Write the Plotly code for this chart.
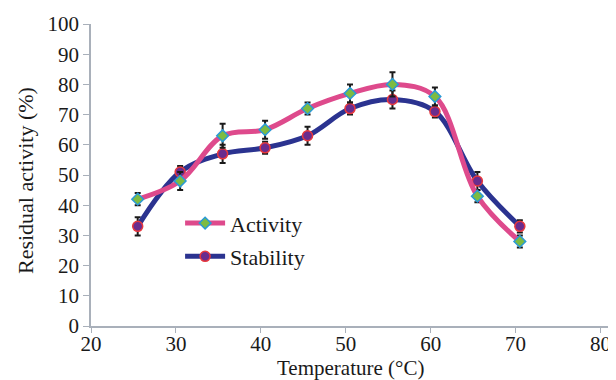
import plotly.graph_objects as go

temperature = [25.5, 30.5, 35.5, 40.5, 45.5, 50.5, 55.5, 60.5, 65.5, 70.5]
activity = [42, 48, 63, 65, 72, 77, 80, 76, 43, 28]
activity_err = [2, 3, 4, 3, 2, 3, 4, 3, 2, 2]
stability = [33, 51, 57, 59, 63, 72, 75, 71, 48, 33]
stability_err = [3, 2, 3, 2, 3, 2, 3, 2, 3, 2]
x_ticks = [20, 30, 40, 50, 60, 70, 80]
y_ticks = [0, 10, 20, 30, 40, 50, 60, 70, 80, 90, 100]

font_family = "Liberation Serif"

fig = go.Figure()
fig.add_trace(go.Scatter(
    x=temperature, y=stability, name="Stability", legend="legend2",
    showlegend=True, mode="lines+markers",
    line=dict(color="#2B3390", width=5, shape="spline", smoothing=1.0),
    marker=dict(symbol="circle", size=10, color="#6A2C8E",
                line=dict(color="#E8383D", width=1.5)),
    error_y=dict(type="data", array=stability_err, color="#1a1a1a",
                 thickness=2, width=3),
))
fig.add_trace(go.Scatter(
    x=temperature, y=activity, name="Activity", legend="legend",
    showlegend=True, mode="lines+markers",
    line=dict(color="#DE4A8C", width=5, shape="spline", smoothing=1.0),
    marker=dict(symbol="diamond", size=9, color="#7DBB42",
                line=dict(color="#2A9AD6", width=1.5)),
    error_y=dict(type="data", array=activity_err, color="#1a1a1a",
                 thickness=2, width=3),
))

axis_color = "#A9B0BA"
legend_common = dict(font=dict(family=font_family, size=22, color="#1a1a1a"),
                     bgcolor="rgba(0,0,0,0)", xanchor="left", yanchor="middle",
                     visible=True, itemwidth=40)

# page body has an 8px default margin, so the figure is drawn 8px smaller
fig.update_layout(
    width=608, height=372,
    showlegend=True,
    margin=dict(l=83, r=7, t=16, b=54),
    paper_bgcolor="white", plot_bgcolor="white",
    font=dict(family=font_family, size=21, color="#1a1a1a"),
    legend=dict(x=0.172, y=0.34, **legend_common),
    legend2=dict(x=0.172, y=0.23, **legend_common),
    xaxis=dict(
        range=[20, 81], tickvals=x_ticks, ticktext=[str(v) for v in x_ticks],
        showgrid=False, zeroline=False, showline=True, linecolor=axis_color,
        linewidth=1.5, ticks="outside", ticklen=5, tickcolor=axis_color,
        tickfont=dict(family=font_family, size=21), automargin=False,
        ticklabelstandoff=-7,
    ),
    yaxis=dict(
        range=[0, 100], tickvals=y_ticks, ticktext=[str(v) for v in y_ticks],
        showgrid=False, zeroline=False, showline=True, linecolor=axis_color,
        linewidth=1.5, ticks="outside", ticklen=6, tickcolor=axis_color,
        tickfont=dict(family=font_family, size=21), automargin=False,
    ),
    annotations=[
        dict(text="Temperature (°C)", xref="paper", yref="paper",
             x=0.5, y=0, yshift=-42, xanchor="center", yanchor="middle",
             showarrow=False, font=dict(family=font_family, size=21)),
        dict(text="Residual activity (%)", xref="paper", yref="paper",
             x=0, xshift=-66, y=0.48, xanchor="center", yanchor="middle",
             textangle=-90, showarrow=False,
             font=dict(family=font_family, size=22)),
    ],
)

fig.write_html("out.html")
